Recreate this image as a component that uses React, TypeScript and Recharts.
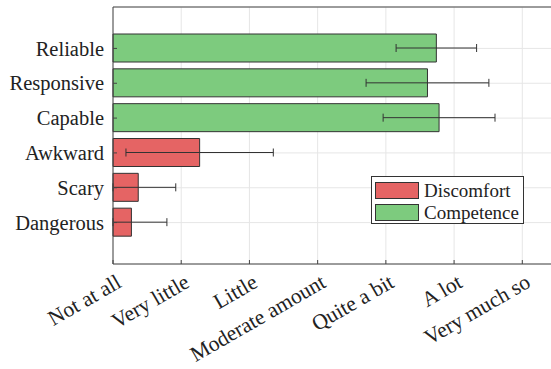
import React from 'react';
import { BarChart, Bar, XAxis, YAxis, CartesianGrid, ErrorBar, Cell, Legend } from 'recharts';

const categories = ['Reliable', 'Responsive', 'Capable', 'Awkward', 'Scary', 'Dangerous'];
const groups = ['Competence', 'Competence', 'Competence', 'Discomfort', 'Discomfort', 'Discomfort'];
const means = [5.74, 5.61, 5.78, 2.27, 1.37, 1.27];
const errors = [0.59, 0.9, 0.82, 1.08, 0.55, 0.52];

const scaleTicks = [1, 2, 3, 4, 5, 6, 7];
const scaleLabels = ['Not at all', 'Very little', 'Little', 'Moderate amount', 'Quite a bit', 'A lot', 'Very much so'];
const legendGroups = ['Discomfort', 'Competence'];

const colors: Record<string, string> = { Discomfort: '#e56464', Competence: '#7dcb7e' };
const font = 'Liberation Serif, Times New Roman, serif';
const ink = '#444';
const axisMin = 1;
const axisMax = 7.45;

// error bars are cut off at the left edge of the axes, like the original
const data = categories.map((name, i) => ({
  name,
  group: groups[i],
  mean: means[i],
  err: [Math.min(errors[i], means[i] - axisMin), errors[i]],
}));

function SlantTick({ x, y, payload }: any) {
  const ax = x + 2;
  return (
    <text
      x={ax}
      y={y}
      dy="0.71em"
      textAnchor="end"
      transform={`rotate(-30, ${ax}, ${y})`}
      fill="#222"
      style={{ fontFamily: font, fontSize: 21.5 }}
    >
      {scaleLabels[payload.value - 1]}
    </text>
  );
}

function NameTick({ x, y, payload }: any) {
  return (
    <text x={x} y={y} dy="0.35em" textAnchor="end" fill="#222" style={{ fontFamily: font, fontSize: 20.5 }}>
      {payload.value}
    </text>
  );
}

function LegendBox() {
  return (
    <div
      style={{
        background: '#fff',
        border: '1px solid #333',
        padding: '3px 4px 2px 3px',
        fontFamily: font,
        fontSize: 19,
        color: '#222',
        boxSizing: 'border-box',
        width: 153,
        height: 48,
      }}
    >
      {legendGroups.map((g) => (
        <div key={g} style={{ display: 'flex', alignItems: 'center', height: 21, marginBottom: 1 }}>
          <span
            style={{
              display: 'inline-block',
              width: 42,
              height: 15,
              background: colors[g],
              border: '1px solid #333',
              marginRight: 5,
            }}
          />
          <span style={{ lineHeight: '21px' }}>{g}</span>
        </div>
      ))}
    </div>
  );
}

export default function App() {
  return (
    <div
      style={{
        position: 'fixed',
        left: 0,
        top: 0,
        width: 551,
        height: 369,
        overflow: 'hidden',
        background: '#fff',
      }}
    >
      <BarChart
        width={553}
        height={369}
        data={data}
        layout="vertical"
        margin={{ top: 6, right: 0, bottom: 0, left: 0 }}
        barSize={28}
      >
        <CartesianGrid stroke="#e6e6e6" />
        <XAxis
          xAxisId="top"
          orientation="top"
          type="number"
          domain={[axisMin, axisMax]}
          ticks={scaleTicks}
          height={1}
          tick={false}
          tickSize={-4}
          stroke={ink}
        />
        <XAxis
          type="number"
          domain={[axisMin, axisMax]}
          ticks={scaleTicks}
          interval={0}
          height={105}
          tickSize={-4}
          tickMargin={13}
          stroke={ink}
          tick={<SlantTick />}
        />
        <YAxis
          type="category"
          dataKey="name"
          width={113}
          padding={{ top: 24, bottom: 24 }}
          tickSize={-4}
          tickMargin={13}
          stroke={ink}
          tick={<NameTick />}
        />
        <Legend
          layout="vertical"
          align="center"
          verticalAlign="middle"
          content={() => <LegendBox />}
          wrapperStyle={{ left: 371, top: 176, width: 153, height: 48 }}
        />
        <Bar dataKey="mean" stroke="#333" strokeWidth={1} isAnimationActive={false}>
          {data.map((d) => (
            <Cell key={d.name} fill={colors[d.group]} />
          ))}
          <ErrorBar dataKey="err" direction="x" stroke="#333" strokeWidth={1} width={4} />
        </Bar>
      </BarChart>
    </div>
  );
}
